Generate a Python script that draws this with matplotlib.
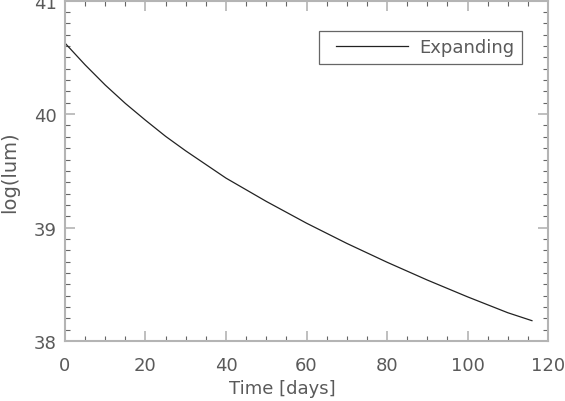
import numpy as np
import matplotlib
matplotlib.use("Agg")
import matplotlib.pyplot as plt
from matplotlib.ticker import MultipleLocator
from matplotlib.legend_handler import HandlerLine2D

# light curve
time_days = [0, 5, 10, 15, 20, 25, 30, 40, 50, 60, 70, 80, 90, 100, 110, 116]
log_lum = [40.626, 40.434, 40.256, 40.094, 39.946, 39.804, 39.676, 39.436,
           39.231, 39.039, 38.861, 38.695, 38.538, 38.390, 38.250, 38.18]

txt = '#5a5a5a'
spine = '#b4b4b4'

fig = plt.figure(figsize=(5.65, 4.02), dpi=100)
ax = fig.add_axes([0.115, 0.149, 0.855, 0.847])

ax.plot(time_days, log_lum, color='#222222', linewidth=0.9, label='Expanding')

ax.set_xlim(0, 120)
ax.set_ylim(38, 41)
ax.xaxis.set_major_locator(MultipleLocator(20))
ax.xaxis.set_minor_locator(MultipleLocator(5))
ax.yaxis.set_major_locator(MultipleLocator(1))
ax.yaxis.set_minor_locator(MultipleLocator(0.1))

for s in ax.spines.values():
    s.set_color(spine)
    s.set_linewidth(1.5)

ax.tick_params(which='both', direction='in', top=True, right=True,
               labelsize=13, labelcolor=txt)
ax.tick_params(which='major', length=7.5, width=1.2, color=spine)
ax.tick_params(which='minor', length=3.5, width=0.8, color='#666666')
ax.tick_params(axis='x', which='major', pad=11)
ax.tick_params(axis='y', which='major', pad=6)

ax.set_xlabel('Time [days]', fontsize=13, color=txt)
ax.xaxis.set_label_coords(0.449, -0.112)
ax.set_ylabel('log(lum)', fontsize=14, color=txt)
ax.yaxis.set_label_coords(-0.095, 0.5)

leg = ax.legend(loc='upper right', bbox_to_anchor=(0.946, 0.91), fontsize=13,
                fancybox=False, framealpha=1, handlelength=5.1,
                borderpad=0.4, handletextpad=0.1, borderaxespad=0,
                handler_map={plt.Line2D: HandlerLine2D(marker_pad=0.55, numpoints=2)})
leg.get_frame().set_edgecolor('#666666')
leg.get_frame().set_linewidth(0.9)
for t in leg.get_texts():
    t.set_color(txt)

fig.savefig('out.png', dpi=100)
